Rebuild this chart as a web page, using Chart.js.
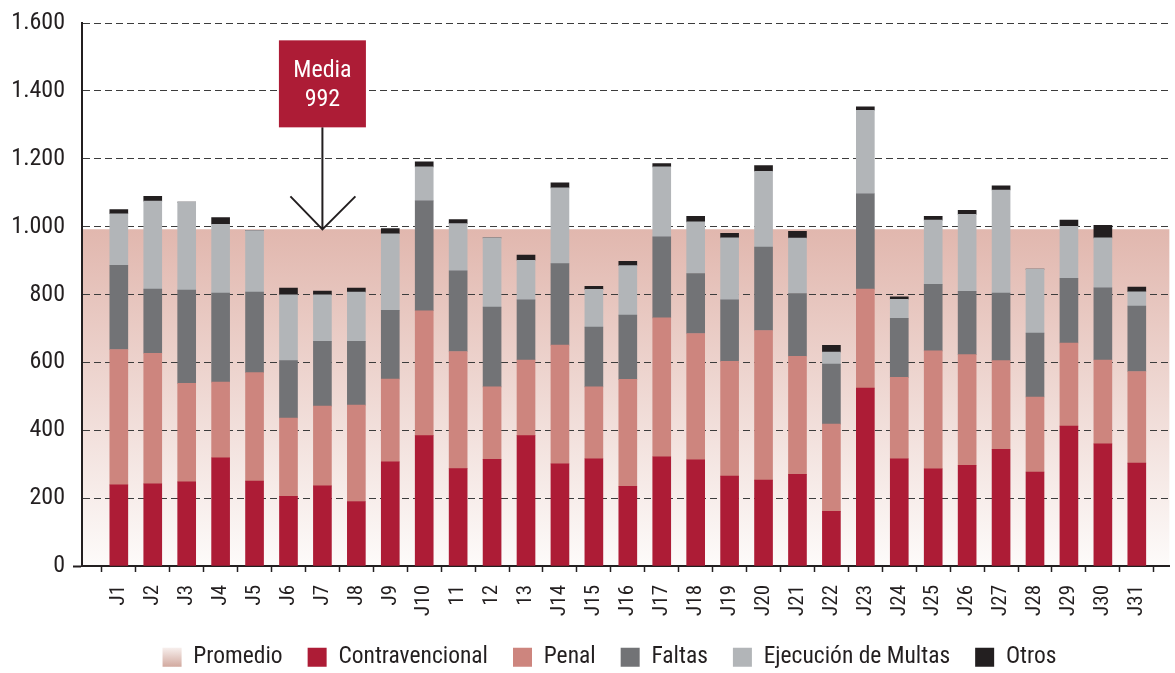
<!DOCTYPE html>
<html><head><meta charset="utf-8">
<script src="https://cdn.jsdelivr.net/npm/chart.js@4.4.0/dist/chart.umd.min.js"></script>
<style>html,body{margin:0;padding:0;background:#fff;overflow:hidden}#wrap{width:1175px;height:673px;position:relative}</style>
</head><body><div id="wrap"><canvas id="c" width="1175" height="673"></canvas></div>
<script>
const LABELS = ['J1','J2','J3','J4','J5','J6','J7','J8','J9','J10','11','12','13','J14','J15','J16','J17','J18','J19','J20','J21','J22','J23','J24','J25','J26','J27','J28','J29','J30','J31'];
const CONTRAVENCIONAL = [239,242,248,319,250,205,236,190,307,384,287,314,384,301,316,235,322,313,265,253,270,161,524,316,286,297,344,277,412,360,303];
const PENAL = [399,385,290,223,320,231,235,284,244,368,345,214,223,350,212,315,409,372,338,441,348,257,292,240,348,326,261,221,245,247,270];
const FALTAS = [248,189,275,262,237,169,191,188,202,324,238,235,177,240,176,189,239,177,181,246,185,177,281,174,196,186,199,188,191,213,193];
const EJECUCION = [152,259,259,203,181,194,137,145,226,100,139,204,117,223,111,146,206,152,183,223,163,35,246,56,189,227,304,189,153,147,42];
const OTROS = [12,14,0,20,0,20,11,12,15,15,12,0,15,15,9,13,10,16,13,17,20,20,10,7,11,12,12,0,18,37,14];
const MEDIA = 992;
const MEDIA_AT = 'J7';
const Y_MAX = 1600, Y_STEP = 200;
const X_MIN = -1.085, X_MAX = 30.97;

const FONT = "'Roboto Condensed','Liberation Sans Narrow','DejaVu Sans Condensed',sans-serif";
const INK = '#231F20';
const COLORS = {contra:'#AD1C36', penal:'#CD857E', faltas:'#727376', ejec:'#B2B5B8', otros:'#231F20'};
const LEGEND_SHIFT = 22;

function pts(arr){ return arr.map((v,i)=>({x:i, y:v})); }
function fmt(v){ return String(v).replace(/\B(?=(\d{3})+(?!\d))/g,'.'); }

function bandGradient(context){
  const chart = context.chart;
  if (!chart.chartArea || !chart.scales.y) return '#E8C8C1';
  const y = chart.scales.y;
  const top = y.getPixelForValue(MEDIA), bottom = y.getPixelForValue(0);
  const g = chart.ctx.createLinearGradient(0, top, 0, bottom);
  g.addColorStop(0, '#E1B7AE');
  g.addColorStop(1, '#FDFBFA');
  return g;
}

const decor = {
  id: 'decor',
  afterLayout(chart){
    const l = chart.legend;
    if (l) { l.left += LEGEND_SHIFT; l.right += LEGEND_SHIFT; }
  },
  afterDatasetsDraw(chart){
    const ctx = chart.ctx;
    const xs = chart.scales.x, ys = chart.scales.y;
    const tx = xs.getPixelForValue(LABELS.indexOf(MEDIA_AT));
    const ty = ys.getPixelForValue(MEDIA);
    ctx.save();
    ctx.strokeStyle = INK; ctx.lineWidth = 2;
    const boxBottom = ty - 102, boxH = 87, boxW = 87;
    ctx.beginPath();
    ctx.moveTo(tx, boxBottom); ctx.lineTo(tx, ty);
    ctx.moveTo(tx - 32, ty - 33); ctx.lineTo(tx, ty); ctx.lineTo(tx + 33, ty - 33);
    ctx.stroke();
    ctx.fillStyle = COLORS.contra;
    ctx.fillRect(tx - boxW/2, boxBottom - boxH, boxW, boxH);
    ctx.fillStyle = '#FFFFFF';
    ctx.font = "24px " + FONT;
    ctx.textAlign = 'center'; ctx.textBaseline = 'middle';
    ctx.fillText('Media', tx, boxBottom - boxH + 31);
    ctx.fillText(String(MEDIA), tx, boxBottom - boxH + 60);
    ctx.restore();
  },
  afterDraw(chart){
    const lg = chart.legend;
    if (!lg || !lg.legendHitBoxes || !lg.legendHitBoxes[0]) return;
    const hb = lg.legendHitBoxes[0];
    const lo = chart.options.plugins.legend.labels;
    const fs = lo.font.size, bw = lo.boxWidth, bh = lo.boxHeight;
    const x = hb.left, y = hb.top + Math.max((fs - bh)/2, 0);
    const ctx = chart.ctx;
    const g = ctx.createLinearGradient(0, y, 0, y + bh);
    g.addColorStop(0, '#F7EFED'); g.addColorStop(1, '#D2A99F');
    ctx.save(); ctx.fillStyle = g; ctx.fillRect(x, y, bw, bh); ctx.restore();
  }
};

new Chart(document.getElementById('c'), {
  data: {
    datasets: [
      {type:'line', label:'Promedio', data:[{x:X_MIN,y:MEDIA},{x:X_MAX,y:MEDIA}], fill:'origin',
       backgroundColor: bandGradient, borderWidth:0, borderColor:'rgba(0,0,0,0)', pointRadius:0},
      {type:'bar', label:'Contravencional', data:pts(CONTRAVENCIONAL), backgroundColor:COLORS.contra},
      {type:'bar', label:'Penal', data:pts(PENAL), backgroundColor:COLORS.penal},
      {type:'bar', label:'Faltas', data:pts(FALTAS), backgroundColor:COLORS.faltas},
      {type:'bar', label:'Ejecución de Multas', data:pts(EJECUCION), backgroundColor:COLORS.ejec},
      {type:'bar', label:'Otros', data:pts(OTROS), backgroundColor:COLORS.otros}
    ]
  },
  options: {
    responsive:false, animation:false, devicePixelRatio:1,
    layout:{padding:{top:23, left:0, right:0, bottom:-6}},
    datasets:{bar:{barThickness:18, borderWidth:0}},
    plugins:{
      filler:{drawTime:'beforeDraw'},
      tooltip:{enabled:false},
      legend:{position:'bottom', align:'center',
        labels:{color:INK, boxWidth:19, boxHeight:19, padding:25, font:{family:FONT, size:23.5}}}
    },
    scales:{
      x:{type:'linear', stacked:true, offset:false, min:X_MIN, max:X_MAX,
        afterBuildTicks: a => { a.ticks = LABELS.map((_,i)=>({value:i})); },
        afterFit: a => { a.height = 54.5; },
        grid:{display:true, drawOnChartArea:false, drawTicks:true, tickLength:6, tickColor:INK, tickWidth:1.5},
        border:{display:true, color:INK, width:2},
        ticks:{autoSkip:false, minRotation:90, maxRotation:90, padding:13, color:INK,
          font:{family:FONT, size:21}, callback: v => LABELS[v] ?? ''}
      },
      y:{stacked:true, min:0, max:Y_MAX,
        afterFit: a => { a.width = 82; },
        grid:{color:'#3C3C3C', lineWidth:1, drawTicks:true, tickLength:9,
          tickColor: c => (c.tick && c.tick.value === 0) ? INK : 'rgba(0,0,0,0)', tickWidth:2},
        border:{display:true, color:INK, width:2, dash:[7,4]},
        ticks:{stepSize:Y_STEP, padding:8, color:INK, font:{family:FONT, size:24}, callback: v => fmt(v)}
      }
    }
  },
  plugins:[decor]
});
</script>
</body></html>
